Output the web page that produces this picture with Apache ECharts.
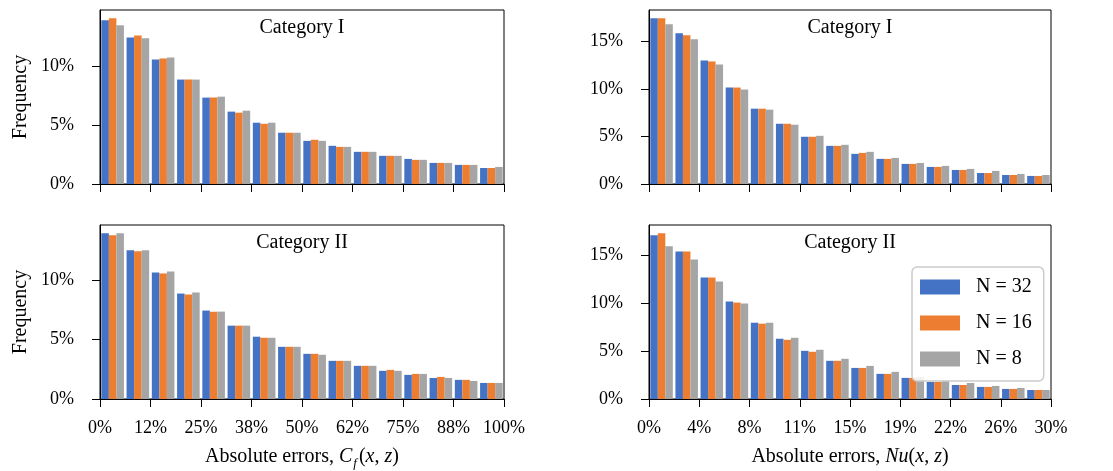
<!DOCTYPE html>
<html><head><meta charset="utf-8">
<script src="https://cdn.jsdelivr.net/npm/echarts@6/dist/echarts.min.js"></script>
<style>html,body{margin:0;padding:0;background:#fff}#c{width:1113px;height:471px}</style>
</head><body><div id="c"></div>
<script>
const seriesNames = ['N = 32', 'N = 16', 'N = 8'];
const bins = ['1','2','3','4','5','6','7','8','9','10','11','12','13','14','15','16'];
const cfTickLabels = ['0%','12%','25%','38%','50%','62%','75%','88%','100%'];
const nuTickLabels = ['0%','4%','8%','11%','15%','19%','22%','26%','30%'];
const cfYTicks = [0, 5, 10];
const nuYTicks = [0, 5, 10, 15];
const panelTitles = ['Category I', 'Category I', 'Category II', 'Category II'];

const cf1_n32 = [13.89,12.44,10.57,8.86,7.33,6.14,5.20,4.35,3.66,3.24,2.73,2.39,2.13,1.79,1.62,1.36];
const cf1_n16 = [14.06,12.61,10.65,8.86,7.33,6.05,5.11,4.35,3.75,3.15,2.73,2.39,2.05,1.79,1.62,1.36];
const cf1_n8  = [13.47,12.36,10.74,8.86,7.41,6.22,5.20,4.35,3.66,3.15,2.73,2.39,2.05,1.79,1.62,1.45];

const nu1_n32 = [17.47,15.88,13.02,10.17,7.94,6.35,4.98,4.02,3.18,2.65,2.12,1.80,1.48,1.16,0.95,0.85];
const nu1_n16 = [17.47,15.67,12.92,10.17,7.94,6.35,4.98,4.02,3.28,2.65,2.12,1.80,1.48,1.16,0.95,0.85];
const nu1_n8  = [16.84,15.25,12.60,9.95,7.84,6.25,5.08,4.13,3.39,2.75,2.22,1.91,1.59,1.38,1.06,0.95];

const cf2_n32 = [13.94,12.51,10.65,8.87,7.44,6.17,5.24,4.39,3.80,3.21,2.79,2.37,2.03,1.77,1.61,1.35];
const cf2_n16 = [13.77,12.42,10.56,8.79,7.35,6.17,5.15,4.39,3.80,3.21,2.79,2.45,2.11,1.86,1.61,1.35];
const cf2_n8  = [13.94,12.51,10.73,8.96,7.35,6.17,5.15,4.39,3.72,3.21,2.79,2.37,2.11,1.77,1.52,1.35];

const nu2_n32 = [17.06,15.38,12.66,10.15,7.95,6.28,5.02,3.98,3.24,2.62,2.20,1.78,1.46,1.26,1.05,0.94];
const nu2_n16 = [17.27,15.38,12.66,10.05,7.85,6.17,4.92,3.98,3.24,2.62,2.20,1.78,1.46,1.26,1.05,0.94];
const nu2_n8  = [15.91,14.55,12.24,9.94,7.95,6.38,5.13,4.19,3.45,2.83,2.30,1.99,1.67,1.36,1.15,0.94];

const colors = ['#4472C4', '#ED7D31', '#A5A5A5'];
const FONT = 'Liberation Serif';

const panels = [
  { rect: {left:100, top:10, width:404, height:174}, data:[cf1_n32,cf1_n16,cf1_n8], xMax:100, xTicks:cfTickLabels, yTicks:cfYTicks, showX:false, yName:'Frequency' },
  { rect: {left:649, top:10, width:402, height:174}, data:[nu1_n32,nu1_n16,nu1_n8], xMax:30, xTicks:nuTickLabels, yTicks:nuYTicks, showX:false, yName:'' },
  { rect: {left:100, top:225, width:404, height:174}, data:[cf2_n32,cf2_n16,cf2_n8], xMax:100, xTicks:cfTickLabels, yTicks:cfYTicks, showX:true, yName:'Frequency', xName:'cf' },
  { rect: {left:649, top:225, width:402, height:174}, data:[nu2_n32,nu2_n16,nu2_n8], xMax:30, xTicks:nuTickLabels, yTicks:nuYTicks, showX:true, yName:'', xName:'nu' }
];

const xNameRich = {
  r: { fontFamily: FONT, fontSize: 20, color: '#000', verticalAlign: 'top', lineHeight: 22 },
  i: { fontFamily: FONT, fontSize: 20, color: '#000', fontStyle: 'italic', verticalAlign: 'top', lineHeight: 22 },
  s: { fontFamily: FONT, fontSize: 13, color: '#000', fontStyle: 'italic', verticalAlign: 'top', lineHeight: 13, padding: [10, 2, 0, 1] }
};
const xNames = {
  cf: '{r|Absolute errors, }{i|C}{s|f}{r|(}{i|x}{r|, }{i|z}{r|)}',
  nu: '{r|Absolute errors, }{i|Nu}{r|(}{i|x}{r|, }{i|z}{r|)}'
};

const grid = [], xAxis = [], yAxis = [], series = [], graphic = [];
panels.forEach((p, k) => {
  grid.push(Object.assign({ show: true, borderColor: '#000', borderWidth: 1, containLabel: false }, p.rect));
  xAxis[k] = { type: 'category', gridIndex: k, data: bins, show: false, position: 'top' };
  const step = p.xMax / (p.xTicks.length - 1);
  xAxis[k + 4] = {
    type: 'value', gridIndex: k, min: 0, max: p.xMax, interval: step, position: 'bottom',
    splitLine: { show: false },
    axisLine: { show: true, lineStyle: { color: '#000', width: 1 } },
    axisTick: { show: true, length: 8, lineStyle: { color: '#000', width: 1 } },
    axisLabel: {
      show: p.showX, margin: 20, fontFamily: FONT, fontSize: 18, color: '#000',
      showMinLabel: true, showMaxLabel: true, hideOverlap: false,
      formatter: v => p.xTicks[Math.round(v / step)]
    },
    name: p.xName ? xNames[p.xName] : '',
    nameLocation: 'middle', nameGap: 48,
    nameTextStyle: { rich: xNameRich }
  };
  const maxVal = Math.max(...p.data.map(a => Math.max(...a)));
  yAxis.push({
    type: 'value', gridIndex: k, min: 0, max: maxVal * 1.05,
    splitLine: { show: false },
    axisLine: { show: true, lineStyle: { color: '#000', width: 1 } },
    axisTick: { show: true, length: 8, customValues: p.yTicks, lineStyle: { color: '#000', width: 1 } },
    axisLabel: { margin: 26, fontFamily: FONT, fontSize: 18, color: '#000', customValues: p.yTicks, formatter: v => v + '%' },
    name: p.yName, nameLocation: 'middle', nameGap: 69,
    nameTextStyle: { fontFamily: FONT, fontSize: 20, color: '#000' }
  });
  p.data.forEach((arr, j) => {
    series.push({
      type: 'bar', name: seriesNames[j], xAxisIndex: k, yAxisIndex: k, data: arr,
      barGap: '0%', barCategoryGap: '10.5%', itemStyle: { color: colors[j] }, animation: false
    });
  });
  graphic.push({
    type: 'text', x: p.rect.left + p.rect.width / 2, y: p.rect.top + 18,
    style: { text: panelTitles[k], fontFamily: FONT, fontSize: 20, fill: '#000', textAlign: 'center', textVerticalAlign: 'middle' }
  });
});

const chart = echarts.init(document.getElementById('c'), null, { renderer: 'canvas' });
chart.setOption({
  animation: false,
  backgroundColor: '#fff',
  grid, xAxis, yAxis, series, graphic,
  legend: {
    data: seriesNames, orient: 'vertical', left: 912, top: 267,
    padding: [10, 12, 12, 8], itemWidth: 40, itemHeight: 15, itemGap: 16,
    icon: 'rect', backgroundColor: 'rgba(255,255,255,0.85)', borderColor: '#cccccc', borderWidth: 1.5, borderRadius: 5,
    textStyle: { fontFamily: FONT, fontSize: 20, color: '#000', padding: [0, 0, 0, 11] }
  }
});
</script></body></html>
